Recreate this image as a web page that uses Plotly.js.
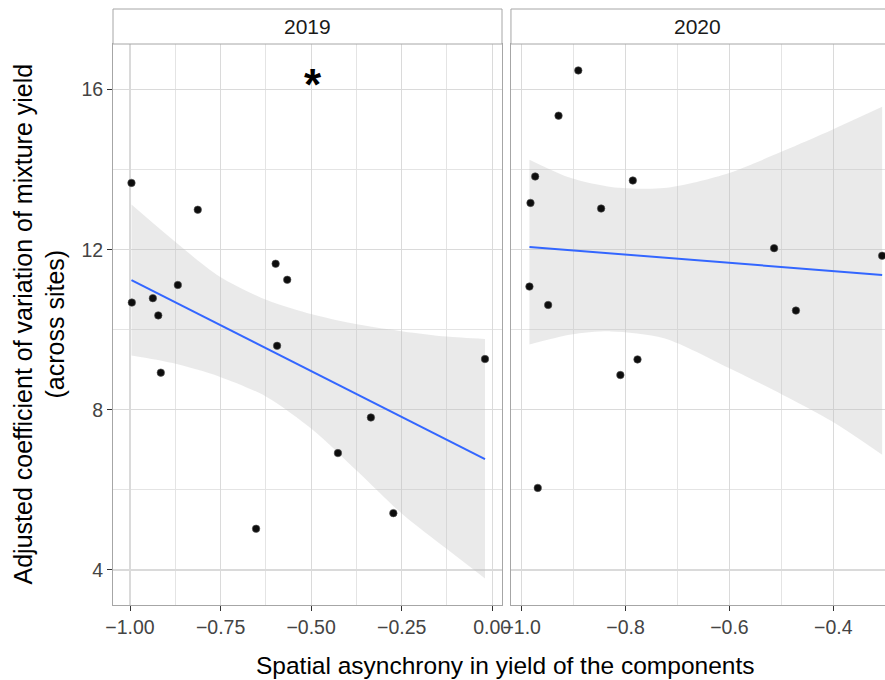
<!DOCTYPE html>
<html>
<head>
<meta charset="utf-8">
<script src="https://cdn.plot.ly/plotly-3.0.1.min.js"></script>
<style>html,body{margin:0;padding:0;background:#fff;}</style>
</head>
<body>
<div id="chart" style="width:885px;height:680px;"></div>
<script>
// ---- Data ----
const panelLabels = ["2019", "2020"];

// 2019 observations
const x2019 = [-0.996, -0.813, -0.598, -0.566, -0.868, -0.995, -0.937, -0.922, -0.915, -0.594, -0.020, -0.335, -0.426, -0.273, -0.652];
const y2019 = [13.67, 13.00, 11.65, 11.25, 11.12, 10.68, 10.79, 10.36, 8.93, 9.60, 9.27, 7.81, 6.92, 5.42, 5.03];

// 2020 observations
const x2020 = [-0.891, -0.929, -0.974, -0.983, -0.786, -0.847, -0.514, -0.306, -0.985, -0.949, -0.472, -0.777, -0.810, -0.969];
const y2020 = [16.48, 15.35, 13.83, 13.17, 13.73, 13.03, 12.04, 11.85, 11.08, 10.62, 10.48, 9.26, 8.87, 6.05];

// Fitted lines (end points)
const fitX2019 = [-0.996, -0.020];
const fitY2019 = [11.24, 6.77];
const fitX2020 = [-0.985, -0.306];
const fitY2020 = [12.07, 11.37];

// Confidence ribbons
const bandX2019 = [-0.996, -0.882, -0.753, -0.624, -0.495, -0.370, -0.246, -0.126, -0.020];
const bandUp2019 = [13.13, 12.25, 11.33, 10.75, 10.38, 10.13, 9.96, 9.83, 9.77];
const bandLo2019 = [9.36, 9.17, 8.83, 8.33, 7.50, 6.45, 5.38, 4.53, 3.79];

const bandX2020 = [-0.985, -0.905, -0.828, -0.726, -0.600, -0.498, -0.402, -0.306];
const bandUp2020 = [14.25, 13.79, 13.57, 13.54, 13.92, 14.46, 15.00, 15.57];
const bandLo2020 = [9.63, 9.88, 9.96, 9.79, 9.04, 8.38, 7.71, 6.88];

// Significance marker
const starText = "*";
const starX = -0.495;
const starY = 16.12;

// Axis ticks
const xTickVals2019 = [-1, -0.75, -0.5, -0.25, 0];
const xTickText2019 = ["\u22121.00", "\u22120.75", "\u22120.50", "\u22120.25", "0.00"];
const xMinor2019 = [-0.875, -0.625, -0.375, -0.125];
const xTickVals2020 = [-1, -0.8, -0.6, -0.4];
const xTickText2020 = ["\u22121.0", "\u22120.8", "\u22120.6", "\u22120.4"];
const xMinor2020 = [-0.9, -0.7, -0.5, -0.3];
const yTickVals = [4, 8, 12, 16];
const yTickText = ["4", "8", "12", "16"];
const yMinor = [6, 10, 14];

const xTitle = "Spatial asynchrony in yield of the components";
const yTitle = "Adjusted coefficient of variation of mixture yield<br>(across sites)";

// ---- Styling ----
const FONT = "Liberation Sans, Arial, Helvetica, sans-serif";
const gridCol = "#dadada";
const minorCol = "#e4e4e4";
const borderCol = "#a6a6a6";
const bandFill = "rgba(190,190,190,0.32)";
const lineCol = "#3366FF";

function band(xs, up, lo, xa, ya) {
  const lower = {
    x: xs, y: lo, xaxis: xa, yaxis: ya, type: "scatter", mode: "lines",
    line: {width: 0, color: "rgba(0,0,0,0)", shape: "spline", smoothing: 0.8},
    hoverinfo: "skip", showlegend: false
  };
  const upper = {
    x: xs, y: up, xaxis: xa, yaxis: ya, type: "scatter", mode: "lines",
    fill: "tonexty", fillcolor: bandFill,
    line: {width: 0, color: "rgba(0,0,0,0)", shape: "spline", smoothing: 0.8},
    hoverinfo: "skip", showlegend: false
  };
  return [lower, upper];
}
function fit(xs, ys, xa, ya) {
  return {x: xs, y: ys, xaxis: xa, yaxis: ya, type: "scatter", mode: "lines",
    line: {color: lineCol, width: 2}, showlegend: false};
}
function pts(xs, ys, xa, ya) {
  return {x: xs, y: ys, xaxis: xa, yaxis: ya, type: "scatter", mode: "markers",
    marker: {color: "#0d0d0d", size: 7.5, line: {width: 0.6, color: "#555"}}, showlegend: false};
}

const traces = [].concat(
  band(bandX2019, bandUp2019, bandLo2019, "x", "y"),
  [fit(fitX2019, fitY2019, "x", "y"), pts(x2019, y2019, "x", "y")],
  band(bandX2020, bandUp2020, bandLo2020, "x2", "y2"),
  [fit(fitX2020, fitY2020, "x2", "y2"), pts(x2020, y2020, "x2", "y2")]
);

const plotH = 680 - 44 - 75;
const stripH = 35 / plotH;

const tickFont = {family: FONT, size: 19.5, color: "#444444"};
function xaxisDef(domain, range, vals, text, minor) {
  return {
    domain: domain, range: range,
    tickmode: "array", tickvals: vals, ticktext: text,
    ticks: "outside", ticklen: 5, tickcolor: "#333", tickwidth: 1,
    showgrid: true, gridcolor: gridCol, gridwidth: 1.1, zeroline: false,
    showline: true, mirror: true, linecolor: borderCol, linewidth: 1,
    tickfont: tickFont,
    minor: {tickmode: "array", tickvals: minor, showgrid: true, gridcolor: minorCol, gridwidth: 1, ticks: ""}
  };
}

const layout = {
  width: 885, height: 680,
  margin: {l: 113, r: 0, t: 44, b: 75},
  paper_bgcolor: "#ffffff", plot_bgcolor: "#ffffff",
  font: {family: FONT, color: "#000"},
  showlegend: false,
  xaxis: xaxisDef([0, 0.5039], [-1.047, 0.027], xTickVals2019, xTickText2019, xMinor2019),
  xaxis2: Object.assign(xaxisDef([0.5155, 1], [-1.0206, -0.3005], xTickVals2020, xTickText2020, xMinor2020), {anchor: "y2"}),
  yaxis: {
    range: [3.125, 17.14], tickmode: "array", tickvals: yTickVals, ticktext: yTickText,
    ticks: "outside", ticklen: 5, tickcolor: "#333", tickwidth: 1,
    showgrid: true, gridcolor: gridCol, gridwidth: 1.1, zeroline: false,
    showline: true, mirror: true, linecolor: borderCol, linewidth: 1,
    tickfont: tickFont,
    minor: {tickmode: "array", tickvals: yMinor, showgrid: true, gridcolor: minorCol, gridwidth: 1, ticks: ""}
  },
  yaxis2: {
    anchor: "x2", matches: "y", range: [3.125, 17.14],
    tickmode: "array", tickvals: yTickVals, showticklabels: false, ticks: "",
    showgrid: true, gridcolor: gridCol, gridwidth: 1.1, zeroline: false,
    showline: true, mirror: false, linecolor: borderCol, linewidth: 1,
    minor: {tickmode: "array", tickvals: yMinor, showgrid: true, gridcolor: minorCol, gridwidth: 1, ticks: ""}
  },
  shapes: [
    {type: "rect", xref: "x domain", yref: "paper", x0: 0, x1: 1, y0: 1, y1: 1 + stripH,
     fillcolor: "#ffffff", line: {color: borderCol, width: 1}},
    {type: "rect", xref: "x2 domain", yref: "paper", x0: 0, x1: 1.02, y0: 1, y1: 1 + stripH,
     fillcolor: "#ffffff", line: {color: borderCol, width: 1}}
  ],
  annotations: [
    {text: panelLabels[0], xref: "x domain", x: 0.5, yref: "paper", y: 1 + stripH / 2,
     xanchor: "center", yanchor: "middle", showarrow: false, font: {family: FONT, size: 21, color: "#1a1a1a"}},
    {text: panelLabels[1], xref: "x2 domain", x: 0.5, yref: "paper", y: 1 + stripH / 2,
     xanchor: "center", yanchor: "middle", showarrow: false, font: {family: FONT, size: 21, color: "#1a1a1a"}},
    {text: "<b>" + starText + "</b>", xref: "x", yref: "y", x: starX, y: starY, xanchor: "center", yanchor: "middle",
     showarrow: false, font: {family: FONT, size: 44, color: "#000"}},
    {text: xTitle, xref: "paper", x: 0.508, yref: "paper", y: 0, yshift: -60,
     xanchor: "center", yanchor: "middle", showarrow: false, font: {family: FONT, size: 24.5, color: "#000"}},
    {text: yTitle, xref: "paper", x: 0, xshift: -74, yref: "paper", y: 0.5, textangle: -90,
     xanchor: "center", yanchor: "middle", showarrow: false, font: {family: FONT, size: 25, color: "#000"}}
  ]
};

Plotly.newPlot("chart", traces, layout, {displayModeBar: false, staticPlot: true});
</script>
</body>
</html>
